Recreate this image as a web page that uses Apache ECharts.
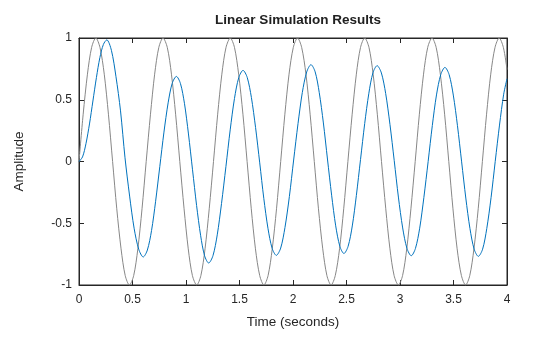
<!DOCTYPE html>
<html>
<head>
<meta charset="utf-8">
<script src="https://cdn.jsdelivr.net/npm/echarts@6/dist/echarts.min.js"></script>
<style>
html,body{margin:0;padding:0;background:#fff;}
#c{width:560px;height:337px;}
</style>
</head>
<body>
<div id="c"></div>
<script>
// Input signal (gray)
var inputT = [0,0.039,0.079,0.118,0.157,0.196,0.236,0.275,0.314,0.353,0.393,0.432,0.471,0.511,0.550,0.589,
  0.628,0.668,0.707,0.746,0.785,0.825,0.864,0.903,0.942,0.982,1.021,1.060,1.100,1.139,1.178,1.217,
  1.257,1.296,1.335,1.374,1.414,1.453,1.492,1.532,1.571,1.610,1.649,1.689,1.728,1.767,1.806,1.846,
  1.885,1.924,1.963,2.003,2.042,2.081,2.121,2.160,2.199,2.238,2.278,2.317,2.356,2.395,2.435,2.474,
  2.513,2.553,2.592,2.631,2.670,2.710,2.749,2.788,2.827,2.867,2.906,2.945,2.985,3.024,3.063,3.102,
  3.142,3.181,3.220,3.259,3.299,3.338,3.377,3.417,3.456,3.495,3.534,3.574,3.613,3.652,3.691,3.731,
  3.770,3.809,3.848,3.888,3.927,3.966,4.0];
var inputV = [0,0.383,0.707,0.924,1,0.924,0.707,0.383,0,-0.383,-0.707,-0.924,-1,-0.924,-0.707,-0.383,
  0,0.383,0.707,0.924,1,0.924,0.707,0.383,0,-0.383,-0.707,-0.924,-1,-0.924,-0.707,-0.383,
  0,0.383,0.707,0.924,1,0.924,0.707,0.383,0,-0.383,-0.707,-0.924,-1,-0.924,-0.707,-0.383,
  0,0.383,0.707,0.924,1,0.924,0.707,0.383,0,-0.383,-0.707,-0.924,-1,-0.924,-0.707,-0.383,
  0,0.383,0.707,0.924,1,0.924,0.707,0.383,0,-0.383,-0.707,-0.924,-1,-0.924,-0.707,-0.383,
  0,0.383,0.707,0.924,1,0.924,0.707,0.383,0,-0.383,-0.707,-0.924,-1,-0.924,-0.707,-0.383,
  0,0.383,0.707,0.924,1,0.924,0.745];
// Response (blue)
var respT = [0,0.033,0.065,0.098,0.13,0.163,0.195,0.228,0.26,
  0.303,0.345,0.388,0.43,0.473,0.515,0.558,0.60,
  0.639,0.678,0.716,0.755,0.794,0.833,0.871,0.91,
  0.948,0.986,1.023,1.061,1.099,1.137,1.174,1.212,
  1.252,1.292,1.332,1.373,1.413,1.453,1.493,1.533,
  1.572,1.611,1.650,1.689,1.727,1.766,1.805,1.844,
  1.885,1.925,1.966,2.006,2.047,2.087,2.128,2.168,
  2.207,2.245,2.284,2.322,2.361,2.399,2.438,2.476,
  2.515,2.554,2.592,2.631,2.670,2.709,2.747,2.786,
  2.826,2.866,2.906,2.946,2.985,3.025,3.065,3.105,
  3.144,3.184,3.223,3.263,3.302,3.341,3.381,3.42,
  3.459,3.498,3.537,3.576,3.615,3.654,3.693,3.732,
  3.772,3.811,3.851,3.890,3.930,3.969,4.0];
var respV = [0,0.037,0.144,0.304,0.49,0.681,0.841,0.948,0.985,
  0.90,0.69,0.41,0.03,-0.28,-0.54,-0.71,-0.773,
  -0.717,-0.559,-0.322,-0.042,0.238,0.475,0.633,0.689,
  0.632,0.468,0.223,-0.067,-0.356,-0.601,-0.764,-0.822,
  -0.763,-0.594,-0.340,-0.042,0.256,0.510,0.679,0.738,
  0.681,0.519,0.276,-0.011,-0.298,-0.541,-0.703,-0.76,
  -0.701,-0.534,-0.284,0.012,0.307,0.558,0.725,0.784,
  0.726,0.560,0.312,0.020,-0.273,-0.521,-0.687,-0.745,
  -0.687,-0.522,-0.276,0.016,0.307,0.553,0.718,0.776,
  0.717,0.551,0.301,0.007,-0.288,-0.538,-0.704,-0.763,
  -0.705,-0.540,-0.292,0,0.291,0.539,0.704,0.762,
  0.704,0.538,0.290,-0.003,-0.296,-0.544,-0.710,-0.768,
  -0.710,-0.543,-0.293,0.001,0.295,0.545,0.67];
var xTicks = [0,0.5,1,1.5,2,2.5,3,3.5,4];
var yTicks = [-1,-0.5,0,0.5,1];

function pairs(t,v){var o=[];for(var i=0;i<t.length;i++)o.push([t[i],v[i]]);return o;}

var FONT = '"Liberation Sans", Arial, Helvetica, sans-serif';
var AX = '#262626';
var chart = echarts.init(document.getElementById('c'), null, {renderer:'canvas'});
var tickCommon = {show:true, inside:true, length:5, lineStyle:{color:AX, width:1}};
var lineCommon = {show:true, onZero:false, lineStyle:{color:AX, width:1}};
chart.setOption({
  animation:false,
  backgroundColor:'#ffffff',
  title:{text:'Linear Simulation Results', left:293, top:8, textAlign:'center',
    textStyle:{fontFamily:FONT, fontSize:13.5, fontWeight:'bold', color:'#212121'}},
  grid:{left:79, right:53, top:38, bottom:52, show:true, borderColor:AX, borderWidth:1, backgroundColor:'#fff'},
  xAxis:[{type:'value', min:0, max:4, interval:0.5, position:'bottom',
    name:'Time (seconds)', nameLocation:'middle', nameGap:30,
    nameTextStyle:{fontFamily:FONT, fontSize:13.5, color:AX},
    axisLine:lineCommon, axisTick:tickCommon, splitLine:{show:false},
    axisLabel:{fontFamily:FONT, fontSize:12, color:AX, margin:9,
      formatter:function(v){return xTicks.indexOf(v)>=0?String(v):'';}}},
    {type:'value', min:0, max:4, interval:0.5, position:'top',
    axisLine:lineCommon, axisTick:tickCommon, axisLabel:{show:false}, splitLine:{show:false}}],
  yAxis:[{type:'value', min:-1, max:1, interval:0.5, position:'left',
    name:'Amplitude', nameLocation:'middle', nameGap:53,
    nameTextStyle:{fontFamily:FONT, fontSize:13.5, color:AX},
    axisLine:lineCommon, axisTick:tickCommon, splitLine:{show:false},
    axisLabel:{fontFamily:FONT, fontSize:12, color:AX, margin:7,
      formatter:function(v){return yTicks.indexOf(v)>=0?String(v):'';}}},
    {type:'value', min:-1, max:1, interval:0.5, position:'right',
    axisLine:lineCommon, axisTick:tickCommon, axisLabel:{show:false}, splitLine:{show:false}}],
  series:[
    {type:'line', data:pairs(inputT,inputV), smooth:0.3, showSymbol:false,
      lineStyle:{color:'#878787', width:1}, z:2},
    {type:'line', data:pairs(respT,respV), smooth:0.3, showSymbol:false,
      lineStyle:{color:'#0072bd', width:1}, z:3}
  ]
});
</script>
</body>
</html>
